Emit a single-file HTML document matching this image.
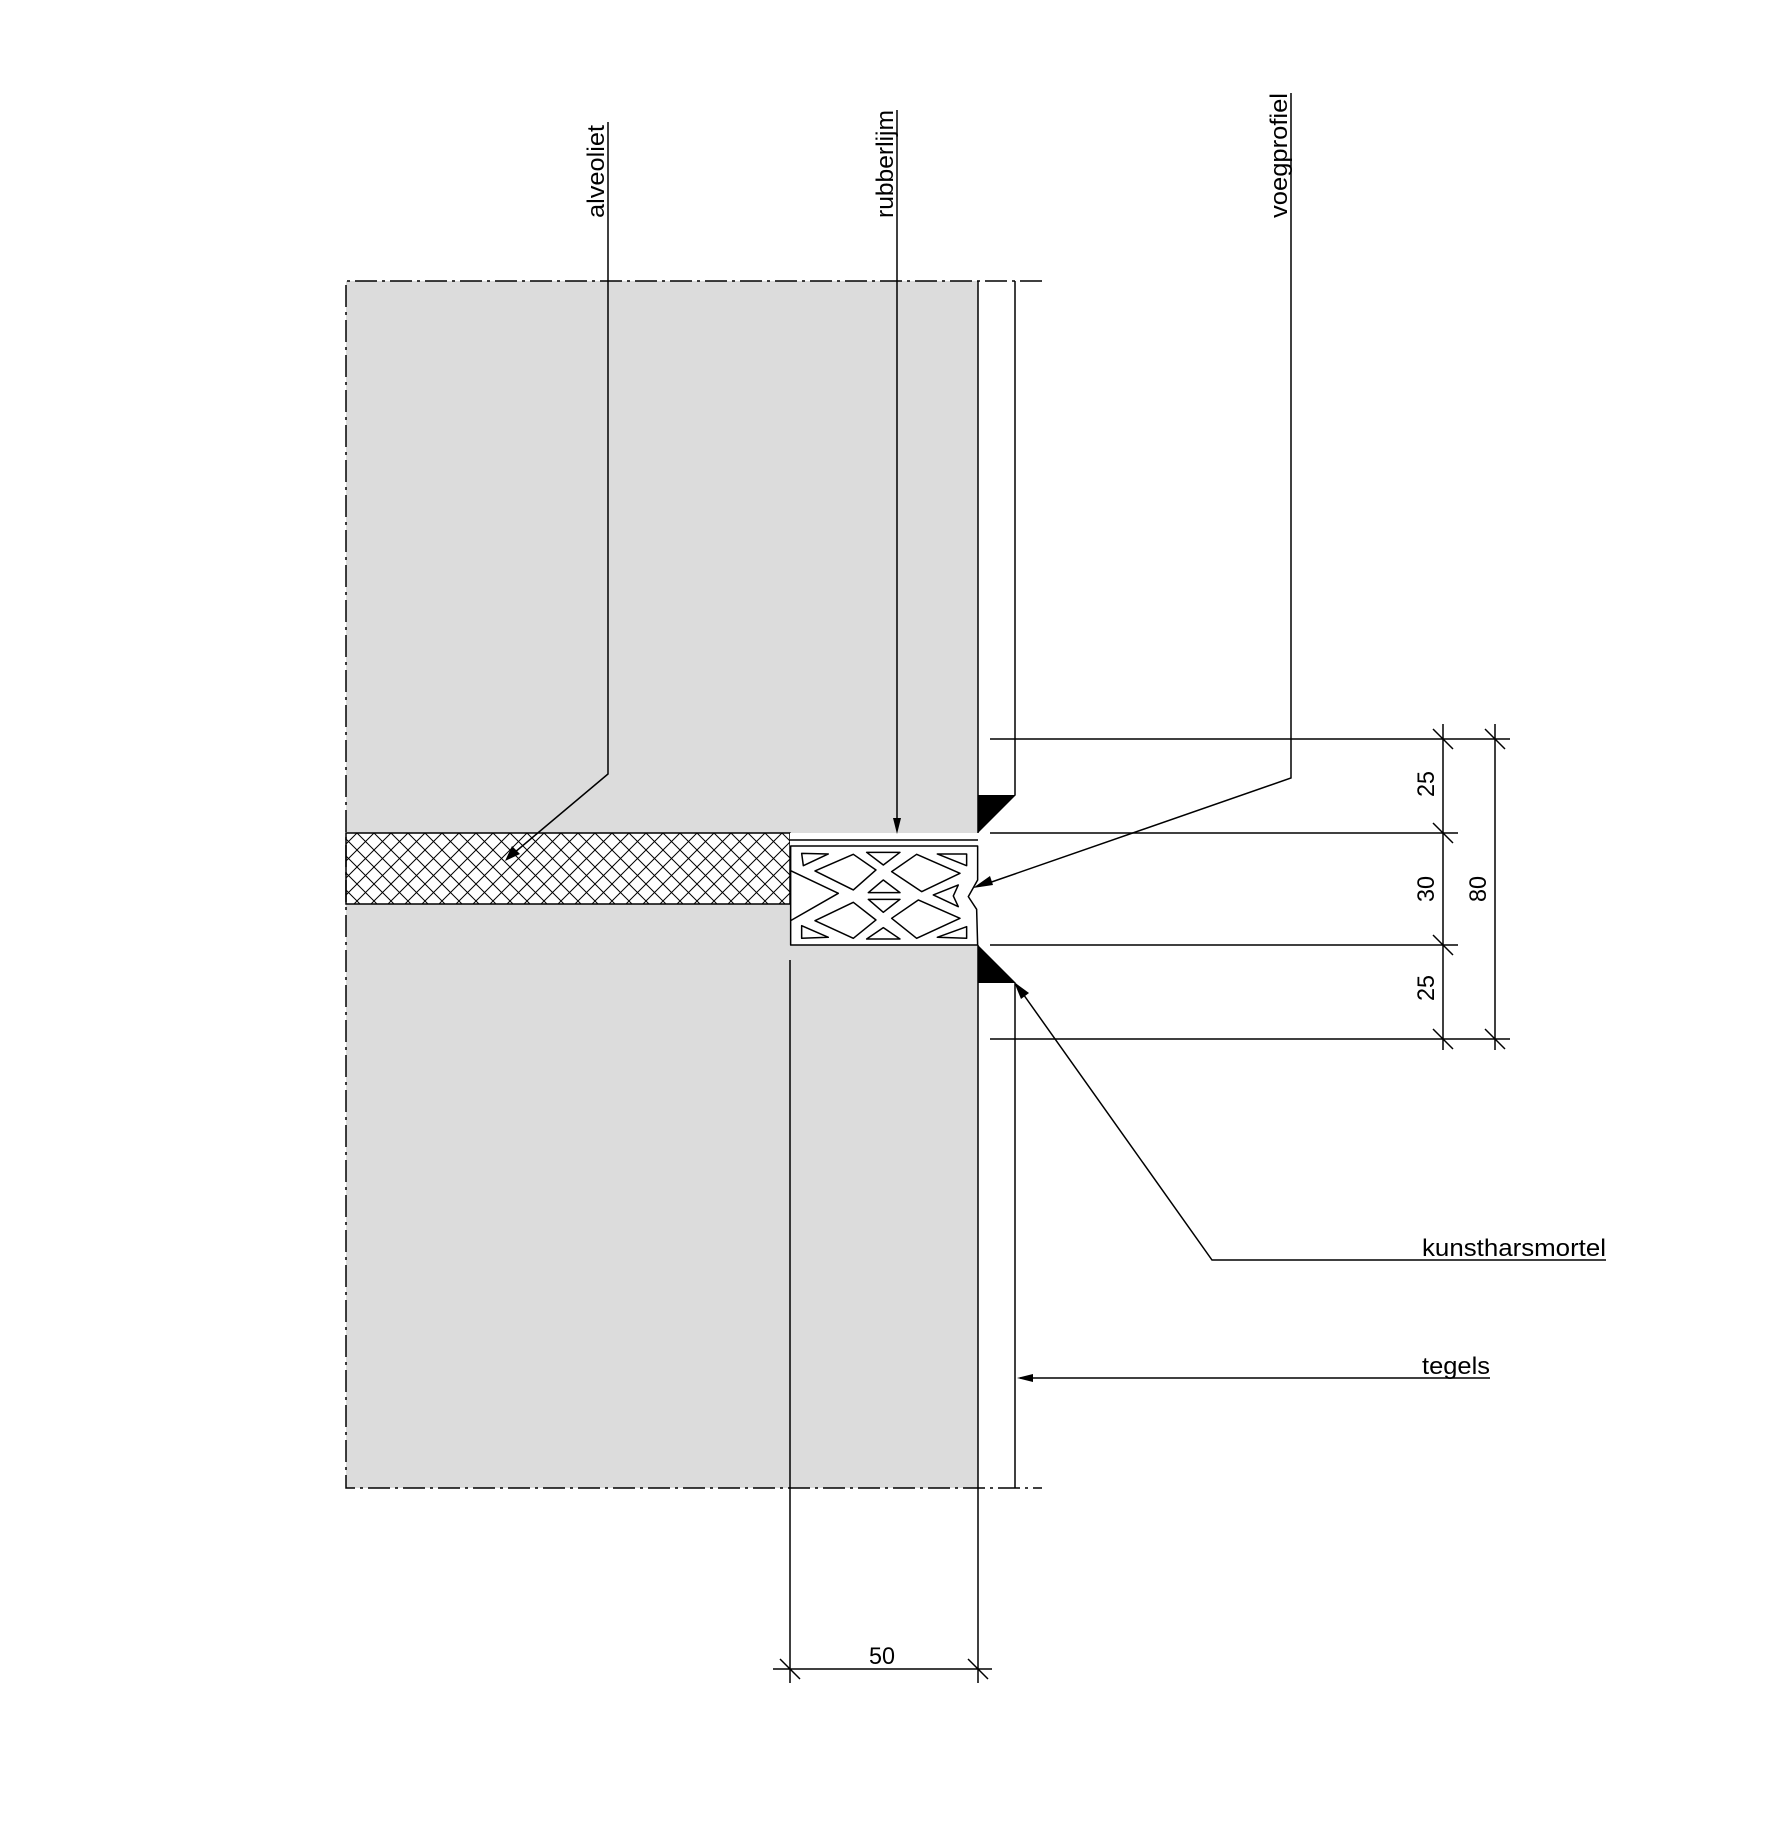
<!DOCTYPE html>
<html><head><meta charset="utf-8"><style>html,body{margin:0;padding:0;background:#fff}svg{display:block}</style></head>
<body>
<svg width="1772" height="1821" viewBox="0 0 1772 1821" xmlns="http://www.w3.org/2000/svg" font-family="'Liberation Sans', sans-serif" font-size="24">
<defs>
<pattern id="h" width="17" height="17" patternUnits="userSpaceOnUse">
<path d="M0 0L17 17M17 0L0 17" stroke="#000" stroke-width="1" fill="none"/>
</pattern>
</defs>
<!-- gray wall -->
<rect x="346" y="281" width="632" height="1207" fill="#dcdcdc"/>
<rect x="346" y="833" width="444" height="71" fill="#fff"/>
<rect x="346" y="833" width="444" height="71" fill="url(#h)" stroke="#000" stroke-width="1.5"/>
<rect x="790" y="833" width="188" height="112" fill="#fff"/>
<!-- dash-dot border -->
<g stroke="#000" stroke-width="1.5" fill="none" stroke-dasharray="22,5,3,5">
<path d="M1042 281H346V1488H1042"/>
</g>
<g stroke="#000" stroke-width="1.5" fill="none">
<path d="M978 281V833M978 945V1683"/>
<path d="M1015 281V795M1015 983V1488"/>
<path d="M790 960V1683"/>
<path d="M790 840H978"/>
<!-- dims bottom -->
<path d="M773 1669H992M780 1659L800 1679M968 1659L988 1679"/>
<!-- right dims -->
<path d="M990 739H1510M990 833H1458M990 945H1458M990 1039H1510"/>
<path d="M1443 724V1050M1495 724V1050"/>
<path d="M1433 729L1453 749M1433 823L1453 843M1433 935L1453 955M1433 1029L1453 1049M1485 729L1505 749M1485 1029L1505 1049"/>
<!-- leaders -->
<path d="M608 122V774L508 858"/>
<path d="M897 110V830"/>
<path d="M1291 93V778L980 886"/>
<path d="M1606 1260H1212L1016 984"/>
<path d="M1490 1378H1020"/>
</g>
<!-- arrows -->
<g fill="#000">
<path d="M505 861L512 846L520 854Z"/>
<path d="M897 834L893 818L901 818Z"/>
<path d="M973 888L990 876L993 885Z"/>
<path d="M1014 982L1029 993L1021 999Z"/>
<path d="M1017 1378L1033 1374L1033 1382Z"/>
<path d="M978 795H1016L978 833Z"/>
<path d="M978 945L1016 983H978Z"/>
</g>
<!-- profile -->
<g transform="translate(700,700) scale(0.3333)" stroke="#000" stroke-width="4.5" fill="none" stroke-linejoin="round">
<path d="M272 438H833V540L805 590L830 628L833 735H272Z" fill="#fff"/>
<path d="M272 512L415 580L272 662"/>
<path d="M305 460L385 462L310 497Z"/>
<path d="M345 513L460 463L528 510L460 570Z"/>
<path d="M500 457L600 457L550 495Z"/>
<path d="M575 515L650 463L780 520L665 575Z"/>
<path d="M712 462L800 462L800 497Z"/>
<path d="M505 578L600 578L550 540Z"/>
<path d="M505 598L600 598L550 637Z"/>
<path d="M700 585L775 555L760 588L775 620Z"/>
<path d="M345 662L460 607L528 660L460 715Z"/>
<path d="M575 655L655 600L780 655L650 715Z"/>
<path d="M305 677L385 712L305 715Z"/>
<path d="M500 717L550 683L600 717Z"/>
<path d="M712 712L800 680L800 715Z"/>
</g>
<!-- labels -->
<g fill="#000">
<text transform="translate(604,218) rotate(-90)" textLength="93" lengthAdjust="spacingAndGlyphs">alveoliet</text>
<text transform="translate(893,218) rotate(-90)" textLength="108" lengthAdjust="spacingAndGlyphs">rubberlijm</text>
<text transform="translate(1287,218) rotate(-90)" textLength="125" lengthAdjust="spacingAndGlyphs">voegprofiel</text>
<text x="1422" y="1256" textLength="184" lengthAdjust="spacingAndGlyphs">kunstharsmortel</text>
<text x="1422" y="1374" textLength="68" lengthAdjust="spacingAndGlyphs">tegels</text>
<text x="869" y="1664" textLength="26" lengthAdjust="spacingAndGlyphs">50</text>
<text transform="translate(1434,797) rotate(-90)" textLength="26" lengthAdjust="spacingAndGlyphs">25</text>
<text transform="translate(1434,902) rotate(-90)" textLength="26" lengthAdjust="spacingAndGlyphs">30</text>
<text transform="translate(1434,1001) rotate(-90)" textLength="26" lengthAdjust="spacingAndGlyphs">25</text>
<text transform="translate(1486,902) rotate(-90)" textLength="26" lengthAdjust="spacingAndGlyphs">80</text>
</g>
</svg>
</body></html>
